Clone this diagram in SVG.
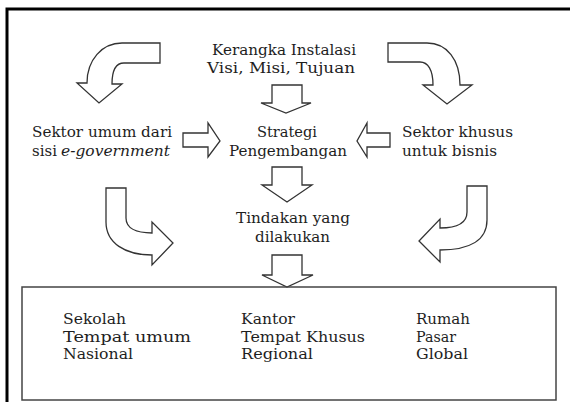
<svg xmlns="http://www.w3.org/2000/svg" width="570" height="402" viewBox="0 0 570 402">
<style>
.t{font-family:"DejaVu Serif","Liberation Serif",serif;font-size:14.5px;fill:#1e1e1e}
.b{font-family:"DejaVu Serif","Liberation Serif",serif;font-size:14px;fill:#1e1e1e}
.ar{fill:#fff;stroke:#333;stroke-width:1.3;stroke-linejoin:miter}
</style>
<rect width="570" height="402" fill="#fff"/>
<path d="M7,402 V9 H570" fill="none" stroke="#000" stroke-width="3"/>
<g id="connectors">
<path class="ar" d="M160,43 H122 C102,43 87,60 87,83 H77 L99,103 L122,84 H112 C112,70 116,63 124,63 H160 Z"/>
<path class="ar" d="M388,43 H427 C447,43 460,60 460,85 H472 L447,104 L423,85 H433 C433,70 428,62 420,62 H388 Z"/>
<path class="ar" d="M106,188 H126 V218 C126,228 136,233 152,233 V222 L173,243 L152,265 V255 C125,255 106,243 106,222 Z"/>
<path class="ar" d="M487,186 V220 C487,240 470,250 440,250 V262 L419,241 L440,219 V228 C458,228 467,222 467,212 V186 Z"/>
<path class="ar" d="M272,85 H302 V103 H311 L286,113 L261,103 H272 Z"/>
<path class="ar" d="M272,167 H302 V185 H312 L287,202 L262,185 H272 Z"/>
<path class="ar" d="M272,255 H302 V275 H313 L287,287 L262,275 H272 Z"/>
<path class="ar" d="M183,133 H208 V123 L220,141 L208,157 V147 H183 Z"/>
<path class="ar" d="M390,133 H367 V123 L357,141 L367,157 V147 H390 Z"/>
</g>
<g id="kerangka">
<text class="t" x="212" y="55" textLength="144" lengthAdjust="spacingAndGlyphs">Kerangka Instalasi</text>
<text class="t" x="207" y="73" textLength="148" lengthAdjust="spacingAndGlyphs">Visi, Misi, Tujuan</text>
</g>
<g id="sektor-umum">
<text class="t" x="32" y="137" textLength="140" lengthAdjust="spacingAndGlyphs">Sektor umum dari</text>
<text class="t" x="32" y="156" textLength="25" lengthAdjust="spacingAndGlyphs">sisi</text>
<text class="t" x="61" y="156" textLength="109" lengthAdjust="spacingAndGlyphs" font-style="italic">e-government</text>
</g>
<g id="strategi">
<text class="t" x="257" y="137" textLength="60" lengthAdjust="spacingAndGlyphs">Strategi</text>
<text class="t" x="229" y="156" textLength="118" lengthAdjust="spacingAndGlyphs">Pengembangan</text>
</g>
<g id="sektor-khusus">
<text class="t" x="402" y="137" textLength="111" lengthAdjust="spacingAndGlyphs">Sektor khusus</text>
<text class="t" x="402" y="156" textLength="95" lengthAdjust="spacingAndGlyphs">untuk bisnis</text>
</g>
<g id="tindakan">
<text class="t" x="236" y="223" textLength="114" lengthAdjust="spacingAndGlyphs">Tindakan yang</text>
<text class="t" x="255" y="242" textLength="75" lengthAdjust="spacingAndGlyphs">dilakukan</text>
</g>
<g id="lokasi">
<rect x="22" y="287" width="534" height="113" fill="none" stroke="#444" stroke-width="1.5"/>
<text class="b" x="63" y="324" textLength="63" lengthAdjust="spacingAndGlyphs">Sekolah</text>
<text class="b" x="63" y="341.5" textLength="128" lengthAdjust="spacingAndGlyphs">Tempat  umum</text>
<text class="b" x="63" y="359" textLength="70" lengthAdjust="spacingAndGlyphs">Nasional</text>
<text class="b" x="241" y="324" textLength="54" lengthAdjust="spacingAndGlyphs">Kantor</text>
<text class="b" x="241" y="341.5" textLength="124" lengthAdjust="spacingAndGlyphs">Tempat Khusus</text>
<text class="b" x="241" y="359" textLength="72" lengthAdjust="spacingAndGlyphs">Regional</text>
<text class="b" x="416" y="324" textLength="54" lengthAdjust="spacingAndGlyphs">Rumah</text>
<text class="b" x="416" y="341.5" textLength="40" lengthAdjust="spacingAndGlyphs">Pasar</text>
<text class="b" x="416" y="359" textLength="52" lengthAdjust="spacingAndGlyphs">Global</text>
</g>
</svg>
